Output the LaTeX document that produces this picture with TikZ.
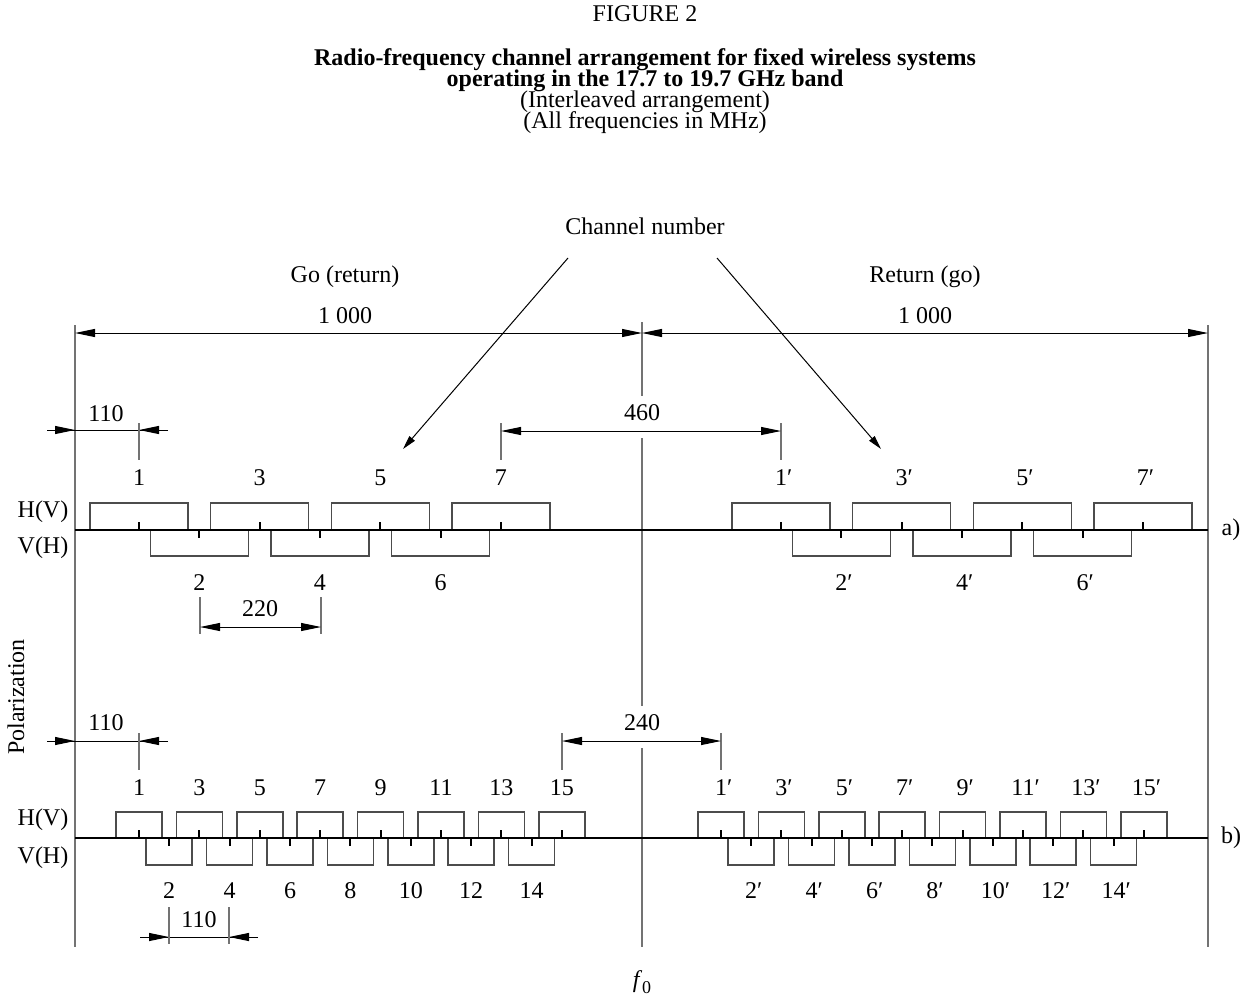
\documentclass[tikz,border=0pt]{standalone}
\usepackage{fontspec}
\setmainfont{Liberation Serif}
\usetikzlibrary{arrows.meta}

\begin{document}
\begin{tikzpicture}[x=0.5pt,y=-0.5pt,
    font=\fontsize{12}{14}\selectfont,
    guide/.style={draw=black!55,line width=0.75pt},
    chanbox/.style={draw=black!70,line width=0.8pt},
    axisline/.style={draw=black,line width=1.2pt},
    tickmark/.style={draw=black,line width=1pt},
    plainline/.style={draw=black,line width=0.5pt},
    dimarrow/.style={line width=0.5pt,{Triangle[length=10pt,width=4pt]}-{Triangle[length=10pt,width=4pt]}},
    dimin/.style={line width=0.5pt,-{Triangle[length=10pt,width=4pt]}},
    pointer/.style={line width=0.5pt,-{Triangle[length=7pt,width=3.5pt]}},
    titleline/.style={inner sep=0pt,text height=7pt,text depth=2pt},
    titlefont/.style={titleline,font=\fontsize{12}{14}\selectfont\bfseries}]
    \useasboundingbox (0,0) rectangle (1246,1001);
    % Title block
    \node[titleline] (Fig)    at (645,16)  {FIGURE 2};
    \node[titlefont] (TitleA) at (645,60)  {Radio-frequency channel arrangement for fixed wireless systems};
    \node[titlefont] (TitleB) at (645,81)  {operating in the 17.7 to 19.7 GHz band};
    \node[titleline] (SubA)   at (645,102) {(Interleaved arrangement)};
    \node[titleline] (SubB)   at (645,123) {(All frequencies in MHz)};
    \coordinate (LTop) at (75,325);
    \coordinate (LBot) at (75,947);
    \coordinate (CTop) at (642,322);
    \coordinate (CBot) at (642,947);
    \coordinate (RTop) at (1208,325);
    \coordinate (RBot) at (1208,947);
    \draw [guide] (LTop) -- (LBot);% Band edge, left
    \draw [guide] (RTop) -- (RBot);% Band edge, right
    \draw [guide] (CTop) -- (642,396) (642,438) -- (642,706) (642,748) -- (CBot);% Centre frequency
    \node (FZero) at (642,982) {\textit{f}\raisebox{-0.55ex}{\small 0}};
    % Half bands
    \coordinate (HalfL) at (75,333);
    \coordinate (HalfC) at (642,333);
    \coordinate (HalfR) at (1208,333);
    \draw [dimarrow] (HalfL) -- (HalfC);
    \draw [dimarrow] (HalfC) -- (HalfR);
    \node (GoLabel)  at (345,277) {Go (return)};
    \node (RetLabel) at (925,277) {Return (go)};
    \node (GoWidth)  at (345,316) {1 000};
    \node (RetWidth) at (925,316) {1 000};
    % Channel number pointers
    \node (ChanNum) at (645,226) {Channel number};
    \coordinate (PtrGoFrom)  at (568,258);
    \coordinate (PtrGoTo)    at (403,449);
    \coordinate (PtrRetFrom) at (717,258);
    \coordinate (PtrRetTo)   at (881,449);
    \draw [pointer] (PtrGoFrom) -- (PtrGoTo);
    \draw [pointer] (PtrRetFrom) -- (PtrRetTo);

    % ---- a) 110 MHz spacing, one channel every 220 MHz per polarization
    \foreach \n in {1,3,5,7}{% Go, H(V)
        \pgfmathsetmacro\cx{139+(\n-1)*60.33}
        \draw [chanbox] ({\cx-49},530) -- ++(0,-27) -- ++(98,0) -- ++(0,27);
        \draw [tickmark] (\cx,530) -- ++(0,-8);
        \node (GoA\n) at (\cx,478) {\n};
    }
    \foreach \n in {2,4,6}{% Go, V(H)
        \pgfmathsetmacro\cx{139+(\n-1)*60.33}
        \draw [chanbox] ({\cx-49},530) -- ++(0,26) -- ++(98,0) -- ++(0,-26);
        \draw [tickmark] (\cx,530) -- ++(0,8);
        \node (GoA\n) at (\cx,583) {\n};
    }
    \foreach \n in {1,3,5,7}{% Return, H(V)
        \pgfmathsetmacro\cx{781+(\n-1)*60.33}
        \draw [chanbox] ({\cx-49},530) -- ++(0,-27) -- ++(98,0) -- ++(0,27);
        \draw [tickmark] (\cx,530) -- ++(0,-8);
        \node (RetA\n) at (\cx,478) {\n\rlap{′}};
    }
    \foreach \n in {2,4,6}{% Return, V(H)
        \pgfmathsetmacro\cx{781+(\n-1)*60.33}
        \draw [chanbox] ({\cx-49},530) -- ++(0,26) -- ++(98,0) -- ++(0,-26);
        \draw [tickmark] (\cx,530) -- ++(0,8);
        \node (RetA\n) at (\cx,583) {\n\rlap{′}};
    }
    \draw [axisline] (75,530) -- (1208,530);
    \node (HVa) at (43,512) {H(V)};
    \node (VHa) at (43,548) {V(H)};
    \node (CaseA) at (1231,530) {a)};
    % a) dimensions
    \draw [plainline] (47,430) -- (168,430);
    \draw [dimin] (47,430) -- (75,430);
    \draw [dimin] (168,430) -- (139,430);
    \draw [guide] (139,423) -- (139,460);
    \node (EdgeA) at (106,414) {110};
    \draw [guide] (501,423) -- (501,460);
    \draw [guide] (781,423) -- (781,460);
    \draw [dimarrow] (501,431) -- (781,431);
    \node (GapA) at (642,413) {460};
    \draw [guide] (200,597) -- (200,634);
    \draw [guide] (321,597) -- (321,634);
    \draw [dimarrow] (200,627) -- (321,627);
    \node (StepA) at (260,609) {220};

    % ---- b) 55 MHz spacing, one channel every 110 MHz per polarization
    \foreach \n in {1,3,...,15}{% Go, H(V)
        \pgfmathsetmacro\cx{139+(\n-1)*30.2}
        \draw [chanbox] ({\cx-23},838) -- ++(0,-26) -- ++(46,0) -- ++(0,26);
        \draw [tickmark] (\cx,838) -- ++(0,-8);
        \node (GoB\n) at (\cx,788) {\n};
    }
    \foreach \n in {2,4,...,14}{% Go, V(H)
        \pgfmathsetmacro\cx{139+(\n-1)*30.2}
        \draw [chanbox] ({\cx-23},838) -- ++(0,27) -- ++(46,0) -- ++(0,-27);
        \draw [tickmark] (\cx,838) -- ++(0,8);
        \node (GoB\n) at (\cx,891) {\n};
    }
    \foreach \n in {1,3,...,15}{% Return, H(V)
        \pgfmathsetmacro\cx{721+(\n-1)*30.2}
        \draw [chanbox] ({\cx-23},838) -- ++(0,-26) -- ++(46,0) -- ++(0,26);
        \draw [tickmark] (\cx,838) -- ++(0,-8);
        \node (RetB\n) at (\cx,788) {\n\rlap{′}};
    }
    \foreach \n in {2,4,...,14}{% Return, V(H)
        \pgfmathsetmacro\cx{721+(\n-1)*30.2}
        \draw [chanbox] ({\cx-23},838) -- ++(0,27) -- ++(46,0) -- ++(0,-27);
        \draw [tickmark] (\cx,838) -- ++(0,8);
        \node (RetB\n) at (\cx,891) {\n\rlap{′}};
    }
    \draw [axisline] (75,838) -- (1208,838);
    \node (HVb) at (43,820) {H(V)};
    \node (VHb) at (43,858) {V(H)};
    \node (CaseB) at (1231,838) {b)};
    % b) dimensions
    \draw [plainline] (47,741) -- (168,741);
    \draw [dimin] (47,741) -- (75,741);
    \draw [dimin] (168,741) -- (139,741);
    \draw [guide] (139,733) -- (139,770);
    \node (EdgeB) at (106,723) {110};
    \draw [guide] (562,733) -- (562,770);
    \draw [guide] (721,733) -- (721,770);
    \draw [dimarrow] (562,741) -- (721,741);
    \node (GapB) at (642,723) {240};
    \draw [plainline] (140,937) -- (258,937);
    \draw [dimin] (140,937) -- (169,937);
    \draw [dimin] (258,937) -- (229,937);
    \draw [guide] (169,907) -- (169,944);
    \draw [guide] (229,907) -- (229,944);
    \node (StepB) at (199,920) {110};

    \node [rotate=90] (Polar) at (16,697) {Polarization};
\end{tikzpicture}
\end{document}
